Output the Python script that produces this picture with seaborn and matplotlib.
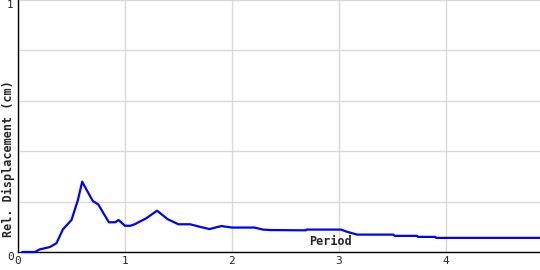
import matplotlib
matplotlib.use("Agg")
import matplotlib.pyplot as plt
import seaborn as sns
import pandas as pd

period = [0.04, 0.16, 0.20, 0.30, 0.36, 0.42, 0.50, 0.56, 0.60, 0.65, 0.70, 0.75,
          0.80, 0.85, 0.91, 0.94, 1.00, 1.05, 1.09, 1.20, 1.30, 1.40, 1.50, 1.61,
          1.70, 1.79, 1.90, 2.00, 2.21, 2.29, 2.36, 2.69, 2.70, 3.02, 3.07, 3.17,
          3.51, 3.52, 3.73, 3.74, 3.90, 3.91, 4.88]
displacement = [0.0, 0.0, 0.01, 0.02, 0.035, 0.09, 0.127, 0.206, 0.279, 0.24, 0.202, 0.189,
                0.153, 0.118, 0.118, 0.127, 0.104, 0.104, 0.11, 0.134, 0.164, 0.13, 0.11, 0.11,
                0.10, 0.091, 0.103, 0.097, 0.097, 0.089, 0.087, 0.086, 0.089, 0.089, 0.081, 0.069,
                0.069, 0.064, 0.064, 0.060, 0.060, 0.056, 0.056]
x_ticks = [0, 1, 2, 3, 4]
x_tick_labels = ["0", "1", "2", "3", "4"]
y_ticks = [0, 0.2, 0.4, 0.6, 0.8, 1.0]
y_tick_labels = ["0", "", "", "", "", "1"]

df = pd.DataFrame({"Period": period, "Disp": displacement})

sns.set_style("white")
plt.rcParams["font.family"] = ["DejaVu Sans Mono"]

fig = plt.figure(figsize=(5.4, 2.7), dpi=100)
ax = fig.add_axes([18 / 540, 18 / 270, 522 / 540, 252 / 270])

sns.lineplot(data=df, x="Period", y="Disp", ax=ax, color="#0000ff", linewidth=1.6,
             estimator=None, sort=False)
for ln in ax.lines:
    ln.set_zorder(3)
    ln.set_clip_on(False)

ax.set_xlim(0, 4.88)
ax.set_ylim(0, 1)
ax.set_xticks(x_ticks)
ax.set_xticklabels(x_tick_labels)
ax.set_yticks(y_ticks)
ax.set_yticklabels(y_tick_labels)
ax.grid(True, color="#d9d9d9", linewidth=1.0)
ax.set_axisbelow(True)
for s in ["top", "right"]:
    ax.spines[s].set_visible(False)
for s in ["left", "bottom"]:
    ax.spines[s].set_color("black")
    ax.spines[s].set_linewidth(1.0)
ax.tick_params(direction="in", length=4, width=1, color="black", labelsize=8, pad=3)
ax.tick_params(axis="x", pad=3)
ylabels = ax.get_yticklabels()
ylabels[-1].set_va("top")
ylabels[0].set_va("top")

ax.set_ylabel("Rel. Displacement (cm)", fontsize=8.5, fontweight="bold")
ax.yaxis.set_label_coords(-0.019, 0.37)
ax.yaxis.label.set_va("center")
ax.set_xlabel("Period", fontsize=8.5, fontweight="bold")
ax.xaxis.set_label_coords(0.598, 0.04)
ax.xaxis.label.set_va("center")

fig.savefig("out.png", dpi=100)
